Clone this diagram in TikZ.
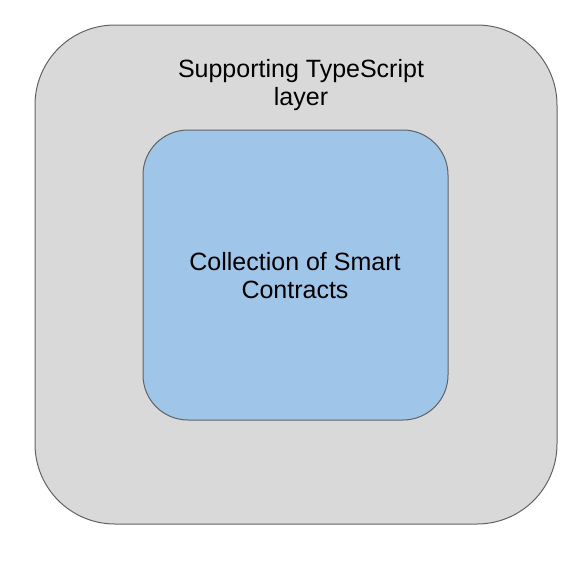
\documentclass[tikz,border=0pt]{standalone}
\usepackage{fontspec}
\setmainfont{Liberation Sans}
\definecolor{layergray}{HTML}{D9D9D9}
\definecolor{contractblue}{HTML}{9FC5E8}
\definecolor{edgegray}{HTML}{5F6368}
\usetikzlibrary{positioning}

\begin{document}
\begin{tikzpicture}[x=1pt, y=-1pt]
  \useasboundingbox (0,0) rectangle (584,563);

  % Outer layer
  \node[draw=edgegray, line width=1pt, fill=layergray, rounded corners=80pt, minimum width=522pt, minimum height=499pt, inner sep=0pt] (layer) at (296, 274.5) {};
  \node[font=\fontsize{25}{28}\selectfont, align=center, inner sep=0pt] (layertext) at (301, 85) {Supporting TypeScript\\layer};

  % Inner contracts
  \node[draw=edgegray, line width=1pt, fill=contractblue, rounded corners=45pt, minimum width=305pt, minimum height=290pt, inner sep=0pt] (contracts) at (295.5, 275) {};
  \node[font=\fontsize{25}{28}\selectfont, align=center, inner sep=0pt] (contractstext) at (295, 276) {Collection of Smart\\Contracts};
\end{tikzpicture}
\end{document}
